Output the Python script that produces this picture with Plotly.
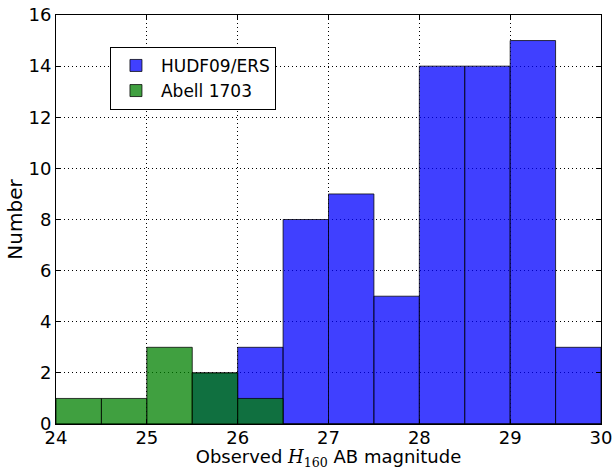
import plotly.graph_objects as go

bin_centers = [24.25, 24.75, 25.25, 25.75, 26.25, 26.75, 27.25, 27.75, 28.25, 28.75, 29.25, 29.75]
hudf_counts = [0, 0, 0, 2, 3, 8, 9, 5, 14, 14, 15, 3]
abell_counts = [1, 1, 3, 2, 1, 0, 0, 0, 0, 0, 0, 0]
bin_width = 0.5

fig = go.Figure()
fig.add_trace(go.Bar(
    x=bin_centers, y=hudf_counts, width=bin_width, name="HUDF09/ERS",
    marker=dict(color="rgba(0,0,255,0.75)", line=dict(color="rgba(0,0,0,0.75)", width=1)),
))
fig.add_trace(go.Bar(
    x=bin_centers, y=abell_counts, width=bin_width, name="Abell 1703",
    marker=dict(color="rgba(0,128,0,0.75)", line=dict(color="rgba(0,0,0,0.75)", width=1)),
))

axis_common = dict(
    showline=True, linecolor="black", linewidth=1, mirror="ticks",
    ticks="inside", ticklen=5, tickcolor="black",
    showgrid=True, gridcolor="black", griddash="1px,3px", gridwidth=1,
    zeroline=False, layer="above traces", automargin=False,
    tickfont=dict(size=18, color="black"),
)

xtitle = ("Observed <span style=\"font-family:'DejaVu Serif'\"><i>H</i>"
          "<sub>160</sub></span> AB magnitude")

fig.update_layout(
    width=616, height=470,
    margin=dict(l=56, r=15, t=15, b=46),
    barmode="overlay",
    plot_bgcolor="white", paper_bgcolor="white",
    font=dict(family="DejaVu Sans", size=18, color="black"),
    xaxis=dict(range=[24, 30], dtick=1, tick0=24, ticklabelstandoff=-3,
               title=dict(text=xtitle, standoff=6, font=dict(size=18)),
               **axis_common),
    yaxis=dict(range=[0, 16], dtick=2, tick0=0,
               title=dict(text="Number", standoff=0, font=dict(size=20)),
               **axis_common),
    legend=dict(x=0.099, y=0.922, xanchor="left", yanchor="top",
                bgcolor="white", bordercolor="black", borderwidth=1,
                font=dict(size=17), tracegroupgap=0, itemwidth=40),
    showlegend=True,
)

fig.write_html("out.html", config={"displayModeBar": False},
               post_script="document.body.style.margin='0';")
